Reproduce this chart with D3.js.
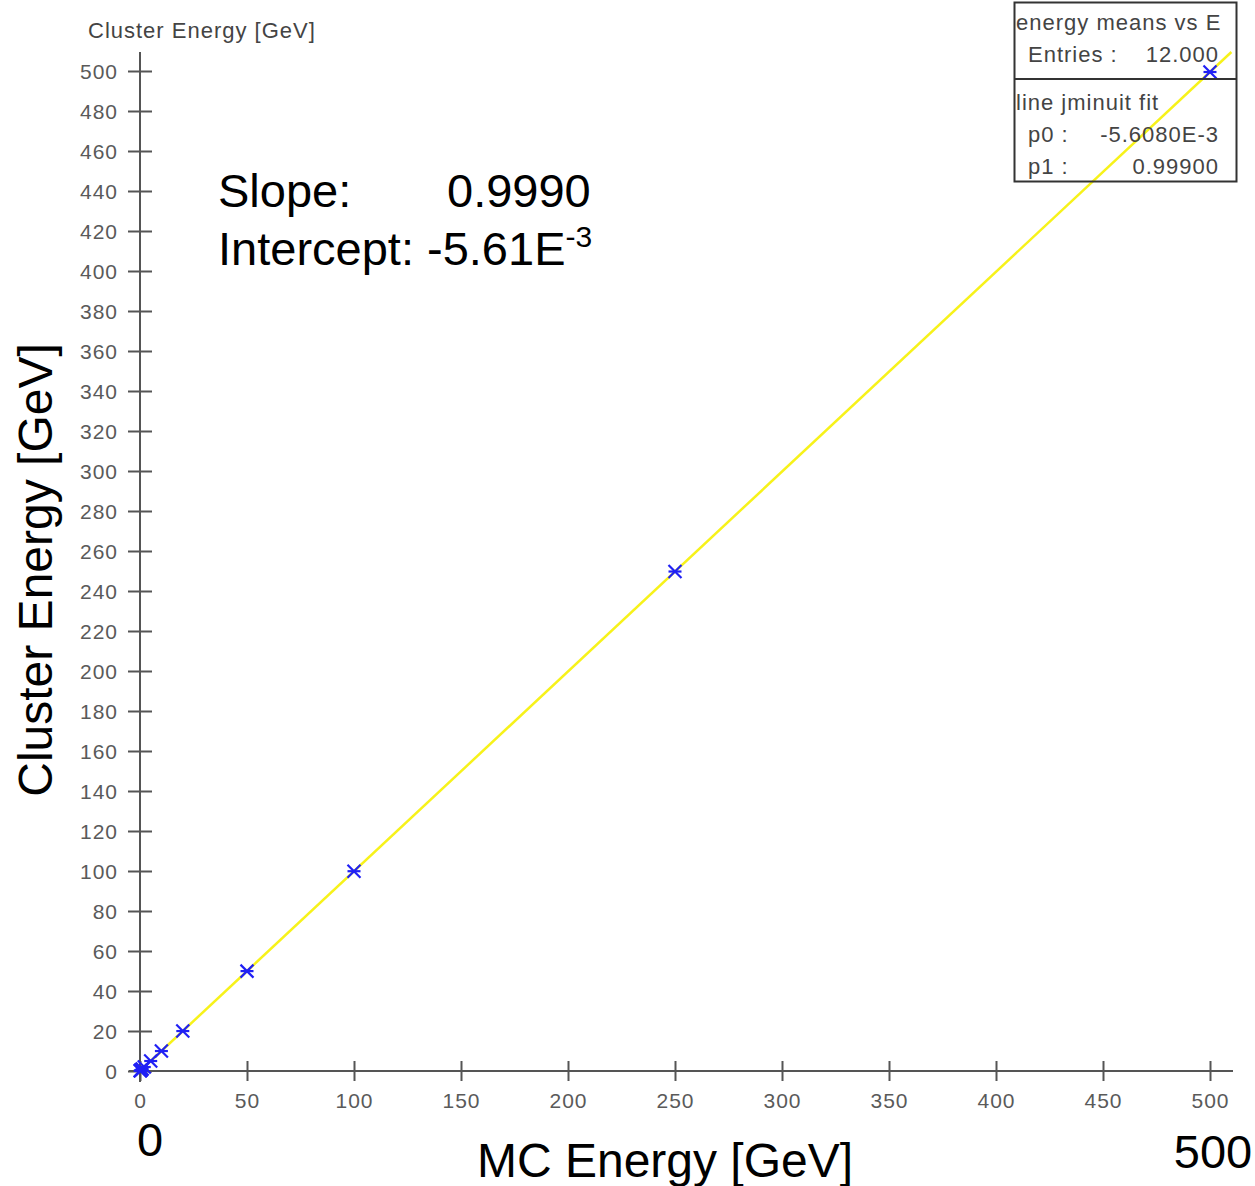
<!DOCTYPE html>
<html>
<head>
<meta charset="utf-8">
<script src="https://cdn.jsdelivr.net/npm/d3@7"></script>
<style>
  body { margin: 0; background: #fff; }
  svg { display: block; }
  .tick text { font-family: "Liberation Sans", Arial, sans-serif; font-size: 21px; fill: #5a5a5a; letter-spacing: 1px; }
  .big { font-family: "Liberation Sans", Arial, sans-serif; font-size: 47px; fill: #000; }
  .title { font-family: "Liberation Sans", Arial, sans-serif; font-size: 48px; fill: #000; }
  .stat { font-family: "Liberation Sans", Arial, sans-serif; font-size: 22px; fill: #444; letter-spacing: 1px; }
</style>
</head>
<body>
<svg id="chart"></svg>
<script>
// MC energies (GeV) and measured cluster energy means
const mcEnergy = [0.1, 0.2, 0.5, 1, 2, 5, 10, 20, 50, 100, 250, 500];
const clusterEnergy = [0.09, 0.19, 0.49, 0.99, 1.99, 4.99, 9.98, 19.97, 49.94, 99.89, 249.74, 499.49];
const xTicks = [0, 50, 100, 150, 200, 250, 300, 350, 400, 450, 500];
const yTicks = d3.range(0, 501, 20);
// fit parameters
const p0 = -5.608e-3;
const p1 = 0.999;
const fitRange = [0, 510];

const width = 1255, height = 1186;
const svg = d3.select('#chart').attr('width', width).attr('height', height);

// plot area: x=0 at 140px, x=500 at 1210px; y=0 at 1071px, y=500 at 71px
const x = d3.scaleLinear().domain([0, 500]).range([140, 1210]);
const y = d3.scaleLinear().domain([0, 500]).range([1071, 71]);

const axisColor = '#555';

// y axis
const yAxis = svg.append('g')
    .attr('transform', `translate(${x(0)},0)`)
    .call(d3.axisLeft(y).tickValues(yTicks).tickSizeOuter(0).tickPadding(16));
yAxis.select('.domain').remove();
yAxis.selectAll('.tick line').attr('x1', -12).attr('x2', 12)
    .attr('stroke', axisColor).attr('stroke-width', 2);
yAxis.selectAll('.tick text').attr('dy', '0.36em');
svg.append('line')
    .attr('x1', x(0)).attr('x2', x(0))
    .attr('y1', 52).attr('y2', 1082)
    .attr('stroke', axisColor).attr('stroke-width', 2);

// x axis
const xAxis = svg.append('g')
    .attr('transform', `translate(0,${y(0)})`)
    .call(d3.axisBottom(x).tickValues(xTicks).tickSizeOuter(0).tickPadding(16));
xAxis.select('.domain').remove();
xAxis.selectAll('.tick line').attr('y1', -10).attr('y2', 10)
    .attr('stroke', axisColor).attr('stroke-width', 2);
svg.append('line')
    .attr('x1', 129).attr('x2', 1233)
    .attr('y1', y(0)).attr('y2', y(0))
    .attr('stroke', axisColor).attr('stroke-width', 2);

// small axis label
svg.append('text').attr('class', 'stat')
    .attr('x', 88).attr('y', 38).attr('fill', '#555')
    .text('Cluster Energy [GeV]');

// fit line
const line = d3.line().x(d => x(d)).y(d => y(p0 + p1 * d));
svg.append('path')
    .datum(fitRange)
    .attr('d', line)
    .attr('fill', 'none')
    .attr('stroke', '#f7f21a')
    .attr('stroke-width', 2.5);

// markers (asterisks)
const pts = mcEnergy.map((d, i) => [d, clusterEnergy[i]]);
const s = 6.5;
const mk = svg.append('g').selectAll('g').data(pts).join('g')
    .attr('transform', d => `translate(${x(d[0])},${y(d[1])})`)
    .attr('stroke', '#2020f5').attr('stroke-width', 2.2);
mk.append('line').attr('x1', -s).attr('y1', -s).attr('x2', s).attr('y2', s);
mk.append('line').attr('x1', -s).attr('y1', s).attr('x2', s).attr('y2', -s);
mk.append('line').attr('x1', -s).attr('y1', 0).attr('x2', s).attr('y2', 0);

// stats box
const box = svg.append('g');
box.append('rect').attr('x', 1014.5).attr('y', 2.5).attr('width', 222).attr('height', 179)
    .attr('fill', 'none').attr('stroke', '#333').attr('stroke-width', 2);
box.append('line').attr('x1', 1014.5).attr('x2', 1236.5).attr('y1', 79).attr('y2', 79)
    .attr('stroke', '#333').attr('stroke-width', 2);
box.append('text').attr('class', 'stat').attr('x', 1016).attr('y', 30).text('energy means vs E');
box.append('text').attr('class', 'stat').attr('x', 1028).attr('y', 62).text('Entries :');
box.append('text').attr('class', 'stat').attr('x', 1219).attr('y', 62).attr('text-anchor', 'end').text('12.000');
box.append('text').attr('class', 'stat').attr('x', 1016).attr('y', 110).text('line jminuit fit');
box.append('text').attr('class', 'stat').attr('x', 1028).attr('y', 142).text('p0 :');
box.append('text').attr('class', 'stat').attr('x', 1219).attr('y', 142).attr('text-anchor', 'end').text('-5.6080E-3');
box.append('text').attr('class', 'stat').attr('x', 1028).attr('y', 174).text('p1 :');
box.append('text').attr('class', 'stat').attr('x', 1219).attr('y', 174).attr('text-anchor', 'end').text('0.99900');

// annotation
svg.append('text').attr('class', 'big').attr('x', 218).attr('y', 207).text('Slope:');
svg.append('text').attr('class', 'big').attr('x', 447).attr('y', 207).text('0.9990');
const ic = svg.append('text').attr('class', 'big').attr('x', 218).attr('y', 265);
ic.append('tspan').text('Intercept: -5.61E');
ic.append('tspan').attr('dy', -18).attr('font-size', 30).text('-3');

// axis titles
svg.append('text').attr('class', 'title')
    .attr('transform', 'translate(52,570) rotate(-90)')
    .attr('text-anchor', 'middle').text('Cluster Energy [GeV]');
svg.append('text').attr('class', 'title')
    .attr('x', 665).attr('y', 1177).attr('text-anchor', 'middle').text('MC Energy [GeV]');
svg.append('text').attr('class', 'big')
    .attr('x', 150).attr('y', 1156).attr('font-size', 45).attr('text-anchor', 'middle').text('0');
svg.append('text').attr('class', 'big')
    .attr('x', 1213).attr('y', 1168).attr('text-anchor', 'middle').text('500');
</script>
</body>
</html>
